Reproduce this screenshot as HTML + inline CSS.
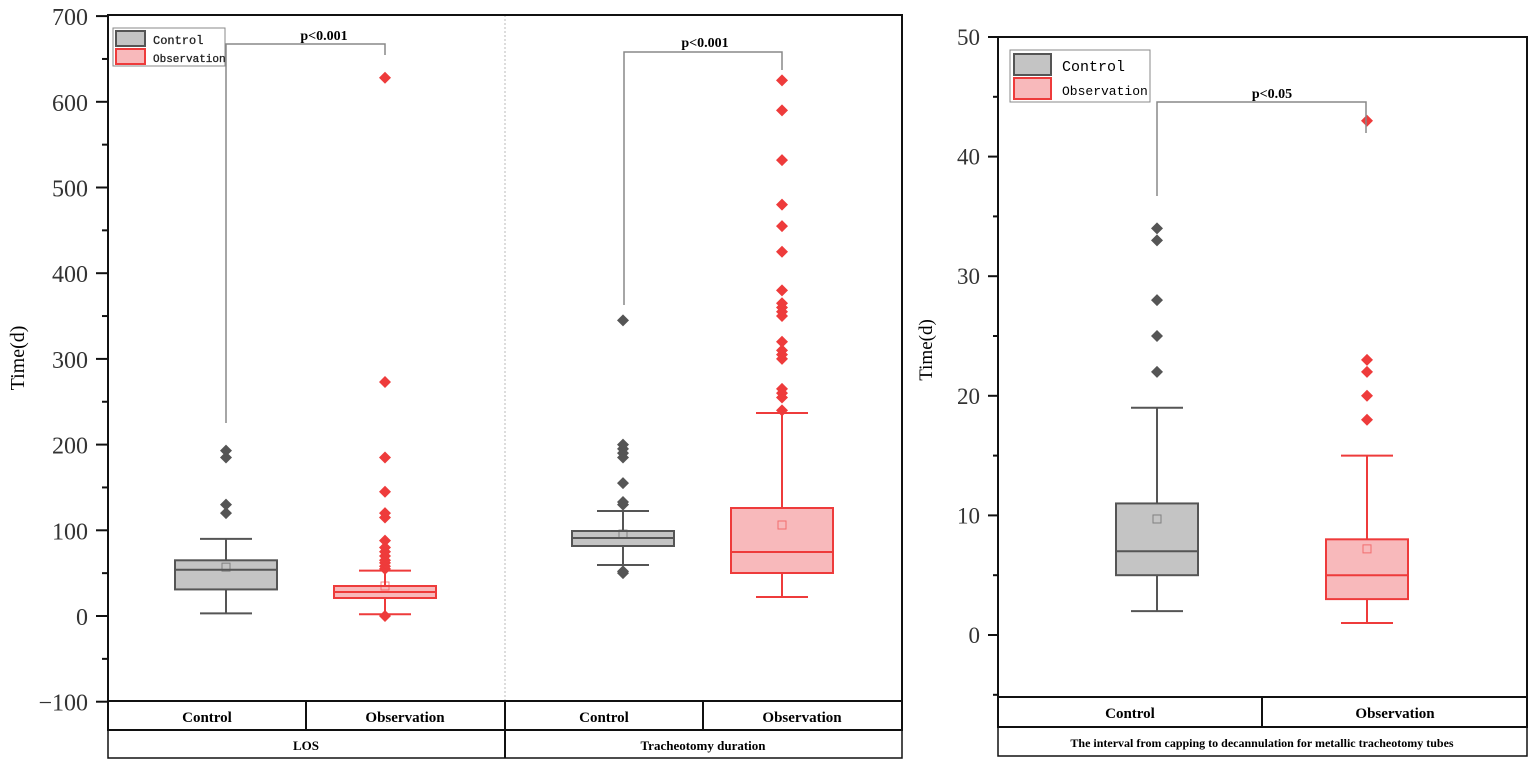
<!DOCTYPE html>
<html><head><meta charset="utf-8"><style>body{margin:0;background:#fff}svg{display:block}</style></head>
<body>
<svg id="s" width="1535" height="766" xmlns="http://www.w3.org/2000/svg" font-family="Liberation Serif, serif">
<rect width="1535" height="766" fill="#fff"/>
</svg>
<script>
const s=document.getElementById('s');let h='';
const G='#555',GF='#c4c4c4',R='#ee3b3b',RF='#f8b9bb';
function L(v){return 616-0.857*v}
function RY(v){return 635-11.96*v}
function box(cx,hw,q1,q3,med,wl,wh,mean,outs,c,f){
 h+=`<line x1="${cx}" y1="${wh}" x2="${cx}" y2="${q3}" stroke="${c}" stroke-width="2"/>`;
 h+=`<line x1="${cx}" y1="${q1}" x2="${cx}" y2="${wl}" stroke="${c}" stroke-width="2"/>`;
 h+=`<line x1="${cx-26}" y1="${wh}" x2="${cx+26}" y2="${wh}" stroke="${c}" stroke-width="2"/>`;
 h+=`<line x1="${cx-26}" y1="${wl}" x2="${cx+26}" y2="${wl}" stroke="${c}" stroke-width="2"/>`;
 h+=`<rect x="${cx-hw}" y="${q3}" width="${2*hw}" height="${q1-q3}" fill="${f}" stroke="${c}" stroke-width="2"/>`;
 h+=`<line x1="${cx-hw}" y1="${med}" x2="${cx+hw}" y2="${med}" stroke="${c}" stroke-width="2"/>`;
 h+=`<rect x="${cx-4}" y="${mean-4}" width="8" height="8" fill="none" stroke="${c}" stroke-opacity="0.6"/>`;
 outs.forEach(y=>{h+=`<path d="M${cx} ${y-6}L${cx+6} ${y}L${cx} ${y+6}L${cx-6} ${y}Z" fill="${c}"/>`});
}
h+=`<line x1="505" y1="15" x2="505" y2="701" stroke="#bbb" stroke-dasharray="2,2"/>`;
h+=`<rect x="108" y="15" width="794" height="686" fill="none" stroke="#111" stroke-width="2"/>`;
for(let v=-100;v<=700;v+=50){const y=L(v);h+=`<line x1="${v%100?102:96}" y1="${y}" x2="108" y2="${y}" stroke="#111" stroke-width="2"/>`;
 if(v%100==0)h+=`<text x="88" y="${y+9}" font-size="24" text-anchor="end" fill="#333">${v<0?'−100':v}</text>`;}
h+=`<text x="24" y="358" font-size="20" text-anchor="middle" transform="rotate(-90 24 358)">Time(d)</text>`;
h+=`<rect x="108" y="701" width="794" height="29" fill="none" stroke="#111" stroke-width="2"/>`;
h+=`<rect x="108" y="730" width="794" height="28" fill="none" stroke="#111" stroke-width="1.5"/>`;
[306,505,703].forEach(x=>h+=`<line x1="${x}" y1="701" x2="${x}" y2="${x==505?758:730}" stroke="#111" stroke-width="2"/>`);
[['Control',207],['Observation',405],['Control',604],['Observation',802]].forEach(t=>h+=`<text x="${t[1]}" y="722" font-size="15" font-weight="bold" text-anchor="middle">${t[0]}</text>`);
h+=`<text x="306" y="750" font-size="13" font-weight="bold" text-anchor="middle">LOS</text>`;
h+=`<text x="703" y="750" font-size="13" font-weight="bold" text-anchor="middle">Tracheotomy duration</text>`;
box(226,51,L(31),L(65),L(54),L(3),L(90),L(57),[120,130,185,193].map(L),G,GF);
box(385,51,L(21),L(35),L(28),L(2),L(53),L(35),[0,55,58,62,65,70,75,80,88,115,120,145,185,273,628].map(L),R,RF);
box(623,51,546,531,538,565,511,534,[50,52,130,133,155,185,190,195,200,345].map(L),G,GF);
box(782,51,573,508,552,597,413,525,[240,255,260,265,300,305,310,320,350,355,360,365,380,425,455,480,532,590,625].map(L),R,RF);
h+=`<path d="M226 423V44H385V55" fill="none" stroke="#888" stroke-width="1.5"/><text x="324" y="40" font-size="14" font-weight="bold" text-anchor="middle">p&lt;0.001</text>`;
h+=`<path d="M624 305V52H782V70" fill="none" stroke="#888" stroke-width="1.5"/><text x="705" y="47" font-size="14" font-weight="bold" text-anchor="middle">p&lt;0.001</text>`;
h+=`<rect x="113" y="28" width="112" height="38" fill="#fff" stroke="#888"/><rect x="116" y="31" width="29" height="15" fill="${GF}" stroke="${G}" stroke-width="2"/><rect x="116" y="49" width="29" height="15" fill="${RF}" stroke="${R}" stroke-width="2"/>`;
h+=`<text x="153" y="44" font-size="12" fill="#222" stroke="#222" stroke-width="0.3" font-family="Liberation Mono, monospace">Control</text><text x="153" y="62" font-size="11" fill="#222" stroke="#222" stroke-width="0.3" font-family="Liberation Mono, monospace">Observation</text>`;
h+=`<rect x="998" y="37" width="529" height="660" fill="none" stroke="#111" stroke-width="2"/>`;
for(let v=-5;v<=50;v+=5){const y=RY(v);h+=`<line x1="${v%10?993:988}" y1="${y}" x2="998" y2="${y}" stroke="#111" stroke-width="2"/>`;
 if(v%10==0&&v>=0)h+=`<text x="980" y="${y+8}" font-size="23" text-anchor="end" fill="#333">${v}</text>`;}
h+=`<text x="932" y="350" font-size="19" text-anchor="middle" transform="rotate(-90 932 350)">Time(d)</text>`;
h+=`<rect x="998" y="697" width="529" height="30" fill="none" stroke="#111" stroke-width="2"/><rect x="998" y="727" width="529" height="29" fill="none" stroke="#111" stroke-width="1.5"/><line x1="1262" y1="697" x2="1262" y2="727" stroke="#111" stroke-width="2"/>`;
h+=`<text x="1130" y="718" font-size="15" font-weight="bold" text-anchor="middle">Control</text><text x="1395" y="718" font-size="15" font-weight="bold" text-anchor="middle">Observation</text>`;
h+=`<text x="1262" y="747" font-size="12" font-weight="bold" text-anchor="middle">The interval from capping to decannulation for metallic tracheotomy tubes</text>`;
box(1157,41,RY(5),RY(11),RY(7),RY(2),RY(19),RY(9.7),[22,25,28,33,34].map(RY),G,GF);
box(1367,41,RY(3),RY(8),RY(5),RY(1),RY(15),RY(7.2),[18,20,22,23,43].map(RY),R,RF);
h+=`<path d="M1157 196V102H1366V133" fill="none" stroke="#888" stroke-width="1.5"/><text x="1272" y="98" font-size="14" font-weight="bold" text-anchor="middle">p&lt;0.05</text>`;
h+=`<rect x="1010" y="50" width="140" height="52" fill="#fff" stroke="#888"/><rect x="1014" y="54" width="37" height="21" fill="${GF}" stroke="${G}" stroke-width="2"/><rect x="1014" y="78" width="37" height="21" fill="${RF}" stroke="${R}" stroke-width="2"/>`;
h+=`<text x="1062" y="71" font-size="15" font-family="Liberation Mono, monospace">Control</text><text x="1062" y="95" font-size="13" font-family="Liberation Mono, monospace">Observation</text>`;
s.insertAdjacentHTML('beforeend',h);
</script>
</body></html>
